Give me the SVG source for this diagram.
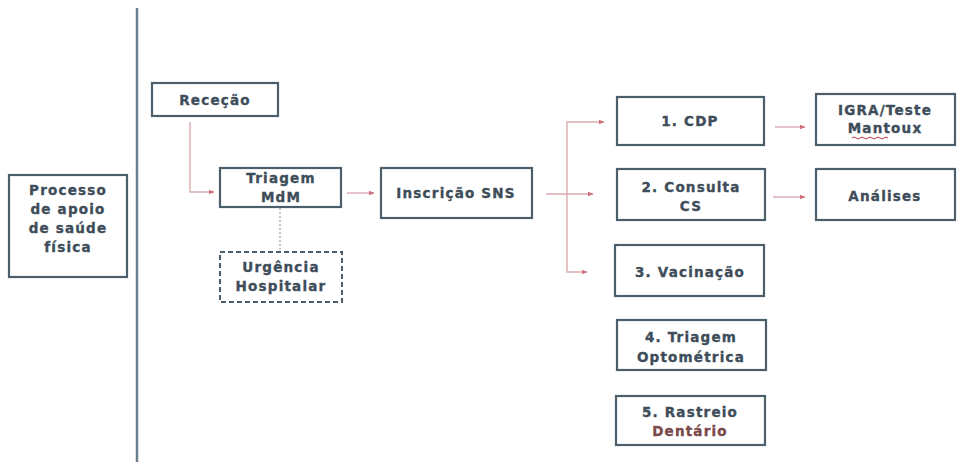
<svg xmlns="http://www.w3.org/2000/svg" width="960" height="462" viewBox="0 0 960 462">
<defs>
<style>
.box{fill:#ffffff;stroke:#4c5e6a;stroke-width:2.2}
.dash{fill:#ffffff;stroke:#4c5e6a;stroke-width:2;stroke-dasharray:5 3}
.t{font-family:"DejaVu Sans","Liberation Sans",sans-serif;font-weight:bold;font-size:13.5px;fill:#3e4d59;stroke:#3e4d59;stroke-width:0.35;text-anchor:middle;letter-spacing:1.2px;dominant-baseline:central}
.c{fill:none;stroke:#dcaab0;stroke-width:1.4}
.dot{fill:none;stroke:#b5b5b5;stroke-width:1.5;stroke-dasharray:2 2}
</style>
<marker id="ah" viewBox="0 0 10 10" refX="9" refY="5" markerWidth="6" markerHeight="6" orient="auto" markerUnits="userSpaceOnUse">
<path d="M0,1 L10,5 L0,9 z" fill="#cf6f7a"/>
</marker>
</defs>
<rect width="960" height="462" fill="#ffffff"/>
<line x1="137" y1="8" x2="137" y2="462" stroke="#6b808e" stroke-width="2.5"/>

<g id="connectors">
<path class="c" d="M190,122 V192 H214" marker-end="url(#ah)"/>
<path class="c" d="M347,193 H374" marker-end="url(#ah)"/>
<path class="dot" d="M280,208 V250"/>
<path class="c" d="M546,194 H593" marker-end="url(#ah)"/>
<path class="c" d="M567,194 V122 H604" marker-end="url(#ah)"/>
<path class="c" d="M567,194 V272 H587" marker-end="url(#ah)"/>
<path class="c" d="M775,127 H805" marker-end="url(#ah)"/>
<path class="c" d="M773,197 H805" marker-end="url(#ah)"/>
</g>

<g id="processo">
<rect class="box" x="9" y="175" width="118" height="102"/>
<text class="t" x="68" y="190">Processo</text>
<text class="t" x="68" y="209">de apoio</text>
<text class="t" x="68" y="228">de saúde</text>
<text class="t" x="68" y="247">física</text>
</g>

<g id="rececao">
<rect class="box" x="152" y="83" width="126" height="33"/>
<text class="t" x="215" y="100">Receção</text>
</g>

<g id="triagem">
<rect class="box" x="220" y="168" width="121" height="39"/>
<text class="t" x="281" y="178">Triagem</text>
<text class="t" x="281" y="197">MdM</text>
</g>

<g id="urgencia">
<rect class="dash" x="220" y="252" width="122" height="50"/>
<text class="t" x="281" y="267">Urgência</text>
<text class="t" x="281" y="286">Hospitalar</text>
</g>

<g id="inscricao">
<rect class="box" x="381" y="168" width="151" height="50"/>
<text class="t" x="456" y="193">Inscrição SNS</text>
</g>

<g id="cdp">
<rect class="box" x="617" y="97" width="147" height="48"/>
<text class="t" x="690" y="121">1. CDP</text>
</g>

<g id="igra">
<rect class="box" x="816" y="94" width="139" height="51"/>
<text class="t" x="885" y="110">IGRA/Teste</text>
<text class="t" x="885" y="128">Mantoux</text>
<path d="M852,138 q2,-2 4,0 t4,0 t4,0 t4,0 t4,0 t4,0 t4,0 t4,0 t4,0" fill="none" stroke="#c0394a" stroke-width="1"/>
</g>

<g id="consulta">
<rect class="box" x="617" y="169" width="148" height="51"/>
<text class="t" x="691" y="187">2. Consulta</text>
<text class="t" x="691" y="206">CS</text>
</g>

<g id="analises">
<rect class="box" x="816" y="169" width="139" height="51"/>
<text class="t" x="885" y="196">Análises</text>
</g>

<g id="vacinacao">
<rect class="box" x="615" y="245" width="149" height="51"/>
<text class="t" x="690" y="272">3. Vacinação</text>
</g>

<g id="optometrica">
<rect class="box" x="617" y="320" width="149" height="50"/>
<text class="t" x="691" y="337">4. Triagem</text>
<text class="t" x="691" y="357">Optométrica</text>
</g>

<g id="dentario">
<rect class="box" x="616" y="396" width="149" height="49"/>
<text class="t" x="690" y="412">5. Rastreio</text>
<text class="t" x="690" y="431" style="fill:#7a4a4a;stroke:#7a4a4a">Dentário</text>
</g>
</svg>
